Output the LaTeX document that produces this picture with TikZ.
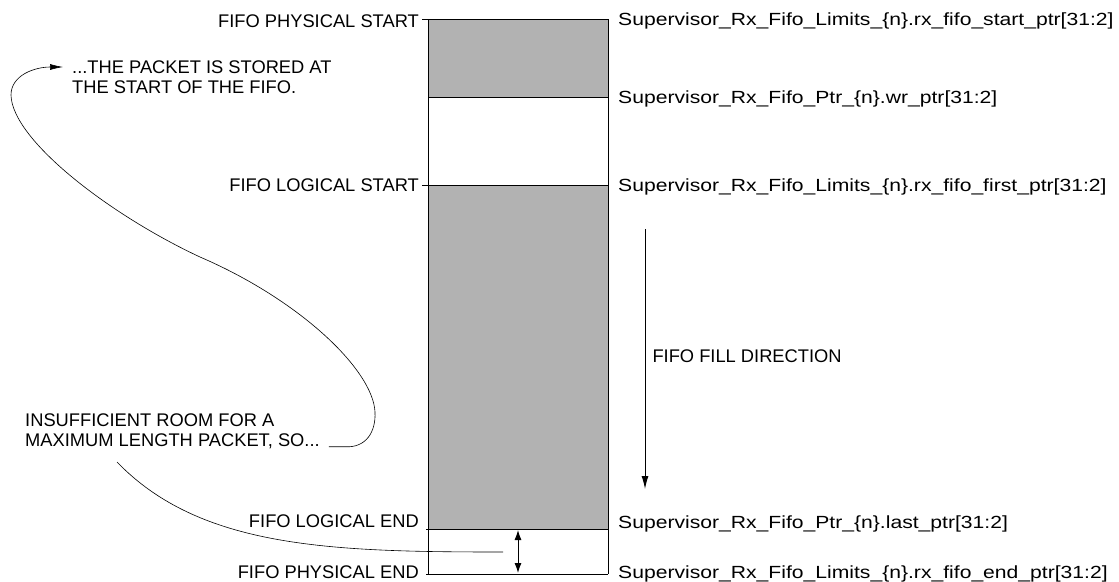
\documentclass[tikz,border=0pt]{standalone}
\usepackage{fontspec}
\setmainfont{Liberation Sans}
\newfontfamily\regfont[FakeStretch=1.2]{Liberation Sans}
\usetikzlibrary{arrows.meta, positioning, calc}
\definecolor{fifogray}{RGB}{178,178,178}
\tikzset{
  reglabel/.style={inner sep=0pt, font=\regfont\fontsize{17.6}{21}\selectfont},
  edgelabel/.style={inner sep=0pt, font=\fontsize{18.3}{20}\selectfont},
  note/.style={anchor=west, inner sep=0pt, align=left, font=\fontsize{18.3}{20}\selectfont},
  level/.style={line width=1pt},
  swoop/.style={line width=0.6pt}
}

\begin{document}
\begin{tikzpicture}[x=1pt, y=-1pt]
  \useasboundingbox (0,0) rectangle (1119,581);
  % pointer levels, left and right edge of the fifo
  \foreach \lvl/\y in {pstart/19, wrptr/97, lstart/185, lend/529, pend/574} {
    \coordinate (\lvl-l) at (428,\y);
    \coordinate (\lvl-r) at (608,\y);
  }
  \fill[fifogray] (pstart-l) rectangle (wrptr-r);
  \fill[fifogray] (lstart-l) rectangle (lend-r);
  \draw[level] (pstart-l) -- (pend-l);
  \draw[level] (pstart-r) -- (pend-r);
  \draw[level] ([xshift=-6pt]pstart-l) -- (pstart-r);
  \draw[level] (wrptr-l) -- (wrptr-r);
  \draw[level] ([xshift=-6pt]lstart-l) -- (lstart-r);
  \draw[level] ([xshift=-2pt]lend-l) -- (lend-r);
  \draw[level] ([xshift=-2pt]pend-l) -- (pend-r);

  \node[edgelabel, left=9pt of pstart-l, yshift=-2pt] (pstartlbl) {FIFO PHYSICAL START};
  \node[edgelabel, left=9pt of lstart-l] (lstartlbl) {FIFO LOGICAL START};
  \node[edgelabel, left=9pt of lend-l, yshift=8pt] (lendlbl) {FIFO LOGICAL END};
  \node[edgelabel, left=9pt of pend-l, yshift=2pt] (pendlbl) {FIFO PHYSICAL END};

  \node[reglabel, right=10pt of pstart-r, yshift=-2pt] (startptr) {Supervisor\_Rx\_Fifo\_Limits\_\{n\}.rx\_fifo\_start\_ptr[31:2]};
  \node[reglabel, right=10pt of wrptr-r, yshift=-2pt] (wrptrlbl) {Supervisor\_Rx\_Fifo\_Ptr\_\{n\}.wr\_ptr[31:2]};
  \node[reglabel, right=10pt of lstart-r, yshift=-2pt] (firstptr) {Supervisor\_Rx\_Fifo\_Limits\_\{n\}.rx\_fifo\_first\_ptr[31:2]};
  \node[reglabel, right=10pt of lend-r, yshift=5pt] (lastptr) {Supervisor\_Rx\_Fifo\_Ptr\_\{n\}.last\_ptr[31:2]};
  \node[reglabel, right=10pt of pend-r] (endptr) {Supervisor\_Rx\_Fifo\_Limits\_\{n\}.rx\_fifo\_end\_ptr[31:2]};

  % fill direction
  \coordinate (fillbeg) at (645,229);
  \coordinate (fillend) at (645,489);
  \draw[level, -{Latex[length=13pt, width=7pt]}] (fillbeg) -- (fillend)
    node[edgelabel, midway, anchor=west, xshift=7pt, yshift=3pt] (filllbl) {FIFO FILL DIRECTION};

  % room left at the end
  \coordinate (gaptop) at ($(lend-l)!0.5!(lend-r)+(0,1)$);
  \coordinate (gapbot) at ($(pend-l)!0.5!(pend-r)+(0,-1)$);
  \draw[level, {Latex[length=10pt, width=7pt]}-{Latex[length=10pt, width=7pt]}] (gaptop) -- (gapbot);

  \node[note] (wrapnote) at (72,77) {...THE PACKET IS STORED AT\\THE START OF THE FIFO.};
  \node[note] (roomnote) at (25,431) {INSUFFICIENT ROOM FOR A\\MAXIMUM LENGTH PACKET, SO...};

  \coordinate (sotail) at ([xshift=9pt, yshift=2pt]roomnote.south east);
  \coordinate (wraptip) at (63,67);
  \coordinate (roomtail) at (117,462);
  \coordinate (gaptail) at (503,552);
  \draw[swoop, -{Latex[length=13pt, width=6pt]}] (sotail) -- ++(16,0)
    .. controls (366,448) and (376,432) .. (375,412)
    .. controls (373,370) and (300,300) .. (200,257)
    .. controls (110,215) and (12,140) .. (11,95)
    .. controls (11,75) and (35,67) .. (wraptip);
  \draw[swoop] (roomtail) .. controls (200,548) and (330,552) .. (gaptail);
\end{tikzpicture}
\end{document}
